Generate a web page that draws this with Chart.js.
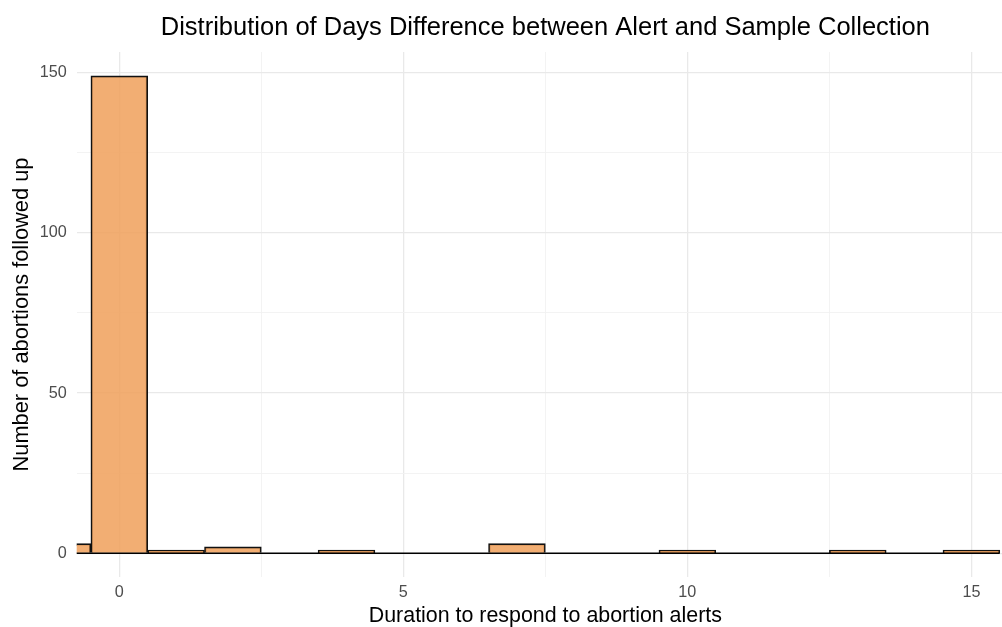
<!DOCTYPE html>
<html>
<head>
<meta charset="utf-8">
<script src="https://cdn.jsdelivr.net/npm/chart.js@4/dist/chart.umd.min.js"></script>
<style>
  html, body { margin: 0; padding: 0; background: #fff; overflow: hidden; }
  #wrap { width: 1014px; height: 627px; }
</style>
</head>
<body>
<div id="wrap"><canvas id="c" width="1014" height="627"></canvas></div>
<script>
// ---- data ----
const bins = [-1, 0, 1, 2, 3, 4, 5, 6, 7, 8, 9, 10, 11, 12, 13, 14, 15];
const counts = [3, 149, 1, 2, 0, 1, 0, 0, 3, 0, 0, 1, 0, 0, 1, 0, 1];
const xGridValues = [0, 2.5, 5, 7.5, 10, 12.5, 15];
const xTickLabels = [0, 5, 10, 15];
const yGridValues = [0, 25, 50, 75, 100, 125, 150];
const yTickLabels = [0, 50, 100, 150];
const titleText = 'Distribution of Days Difference between Alert and Sample Collection';
const xTitle = 'Duration to respond to abortion alerts';
const yTitle = 'Number of abortions followed up';

const FONT = "'Liberation Sans', Arial, Helvetica, sans-serif";
const binWidth = 1;

const barData = bins.map((b, i) => ({ x: b, y: counts[i] }));
const baseData = [
  { x: bins[0] - binWidth / 2, y: 0 },
  { x: bins[bins.length - 1] + binWidth / 2, y: 0 }
];

const gridColor = (ctx, majors) => {
  const v = ctx.tick ? ctx.tick.value : null;
  return majors.includes(v) ? '#E9E9E9' : '#F2F2F2';
};
const gridWidth = (ctx, majors) => {
  const v = ctx.tick ? ctx.tick.value : null;
  return majors.includes(v) ? 1.3 : 0.9;
};

new Chart(document.getElementById('c'), {
  type: 'bar',
  data: {
    datasets: [
      {
        type: 'line',
        data: baseData,
        borderColor: '#000',
        borderWidth: 1.6,
        pointRadius: 0,
        order: 0
      },
      {
        data: barData,
        backgroundColor: 'rgba(240,160,90,0.85)',
        borderColor: '#111',
        borderWidth: 1.6,
        barPercentage: 1,
        categoryPercentage: 1,
        order: 1
      }
    ]
  },
  options: {
    responsive: false,
    animation: false,
    devicePixelRatio: 1,
    layout: { padding: 0 },
    plugins: {
      legend: { display: false },
      tooltip: { enabled: false },
      title: {
        display: true,
        text: titleText,
        fullSize: false,
        color: '#000',
        font: { family: FONT, size: 25.5, weight: 'normal', lineHeight: 1.2 },
        padding: { top: 12.7, bottom: 8.7 }
      }
    },
    scales: {
      x: {
        type: 'linear',
        min: -0.75,
        max: 15.75,
        offset: false,
        border: { display: false },
        grid: {
          offset: false,
          drawTicks: false,
          color: (ctx) => gridColor(ctx, xTickLabels),
          lineWidth: (ctx) => gridWidth(ctx, xTickLabels)
        },
        afterBuildTicks: (scale) => { scale.ticks = xGridValues.map(v => ({ value: v })); },
        afterFit: (scale) => { scale.height = 50; },
        ticks: {
          autoSkip: false,
          maxRotation: 0,
          padding: 6.3,
          color: '#4D4D4D',
          font: { family: FONT, size: 16.2 },
          callback: (v) => xTickLabels.includes(v) ? String(v) : ''
        },
        title: {
          display: true,
          text: xTitle,
          color: '#000',
          font: { family: FONT, size: 21.4, lineHeight: 1 },
          padding: { top: 0, bottom: 0 }
        }
      },
      y: {
        type: 'linear',
        min: -7.4,
        max: 156.46,
        border: { display: false },
        grid: {
          drawTicks: false,
          color: (ctx) => gridColor(ctx, yTickLabels),
          lineWidth: (ctx) => gridWidth(ctx, yTickLabels)
        },
        afterBuildTicks: (scale) => { scale.ticks = yGridValues.map(v => ({ value: v })); },
        afterFit: (scale) => { scale.width = 76.7; },
        ticks: {
          autoSkip: false,
          padding: 10,
          color: '#4D4D4D',
          font: { family: FONT, size: 16.2 },
          callback: (v) => yTickLabels.includes(v) ? String(v) : ''
        },
        title: {
          display: true,
          text: yTitle,
          color: '#000',
          font: { family: FONT, size: 21.8, lineHeight: 1.2 },
          padding: { top: 8.6, bottom: 0 }
        }
      }
    }
  }
});
</script>
</body>
</html>
